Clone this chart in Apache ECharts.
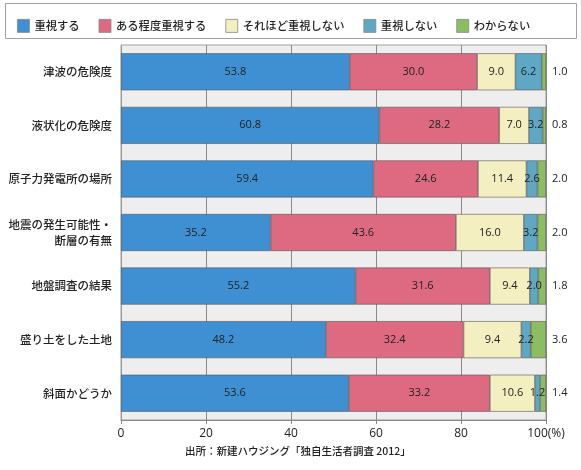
<!DOCTYPE html>
<html>
<head>
<meta charset="utf-8">
<script src="https://cdn.jsdelivr.net/npm/echarts@6/dist/echarts.min.js"></script>
<style>
  html, body { margin: 0; padding: 0; background: #fff; }
  #main { width: 581px; height: 470px; }
</style>
</head>
<body>
<div id="main"></div>
<script>
// 項目（上から順）
var categories = [
    '津波の危険度',
    '液状化の危険度',
    '原子力発電所の場所',
    '地震の発生可能性・\n断層の有無',
    '地盤調査の結果',
    '盛り土をした土地',
    '斜面かどうか'
];
var seriesNames = ['重視する', 'ある程度重視する', 'それほど重視しない', '重視しない', 'わからない'];

// 各回答の割合（%）
var juushi      = [53.8, 60.8, 59.4, 35.2, 55.2, 48.2, 53.6];
var aruteido    = [30.0, 28.2, 24.6, 43.6, 31.6, 32.4, 33.2];
var sorehodo    = [9.0, 7.0, 11.4, 16.0, 9.4, 13.6, 10.6];
var shinai      = [6.2, 3.2, 2.6, 3.2, 2.0, 2.2, 1.2];
var wakaranai   = [1.0, 0.8, 2.0, 2.0, 1.8, 3.6, 1.4];
// 図に印字されているラベル（盛り土の行は図のまま 9.4）
var sorehodoLabels = ['9.0', '7.0', '11.4', '16.0', '9.4', '9.4', '10.6'];

var xTicks = [0, 20, 40, 60, 80, 100];

var colors = ['#3f90d2', '#de6a81', '#f3efc0', '#5ea8c6', '#8cbd61'];

var myChart = echarts.init(document.getElementById('main'));

var labelFont = {
    color: '#222',
    fontSize: 11,
    fontFamily: 'Open Sans, Noto Sans, sans-serif'
};

function makeSeries(name, data, idx, labelOpt) {
    return {
        name: name,
        type: 'bar',
        stack: 'total',
        data: data,
        barWidth: 37,
        itemStyle: {
            color: colors[idx],
            borderColor: '#555',
            borderWidth: 0.6
        },
        label: labelOpt
    };
}

var insideLabel = function (arr) {
    return Object.assign({
        show: true,
        position: 'inside',
        formatter: function (p) {
            return arr ? arr[p.dataIndex] : p.value.toFixed(1);
        }
    }, labelFont);
};

var option = {
    animation: false,
    textStyle: { fontFamily: 'Noto Sans CJK JP, sans-serif' },
    graphic: [
        {
            type: 'rect',
            shape: { x: 5.5, y: 3.5, width: 571, height: 35 },
            style: { fill: '#fff', stroke: '#a0a0a0', lineWidth: 1 },
            z: -1
        },
        {
            type: 'text',
            left: 185,
            top: 446,
            style: {
                text: '出所：新建ハウジング「独自生活者調査 2012」',
                fill: '#222',
                font: '500 10.5px "Noto Sans CJK JP"'
            }
        }
    ],
    legend: {
        data: seriesNames,
        left: 12,
        top: 14,
        itemWidth: 12,
        itemHeight: 13,
        itemGap: 19,
        icon: 'rect',
        itemStyle: { borderColor: '#888', borderWidth: 0.8 },
        textStyle: {
            color: '#222',
            fontSize: 11.3,
            fontWeight: 500,
            fontFamily: 'Noto Sans CJK JP'
        }
    },
    grid: {
        left: 121,
        right: 35,
        top: 45,
        bottom: 50,
        show: true,
        backgroundColor: '#eeeeef',
        borderColor: '#a0a0a0',
        borderWidth: 1
    },
    xAxis: {
        type: 'value',
        min: xTicks[0],
        max: xTicks[xTicks.length - 1],
        interval: 20,
        axisLine: { show: true, lineStyle: { color: '#888' } },
        axisTick: { show: true, length: 4, lineStyle: { color: '#888' } },
        splitLine: { show: true, lineStyle: { color: '#8a8a8a', width: 1 } },
        axisLabel: {
            color: '#222',
            fontSize: 12,
            fontFamily: 'Open Sans, Noto Sans, sans-serif',
            margin: 8,
            formatter: function (v) {
                return v === 100 ? '100(%)' : String(v);
            }
        }
    },
    yAxis: {
        type: 'category',
        data: categories,
        inverse: true,
        axisLine: { show: true, lineStyle: { color: '#999' } },
        axisTick: { show: false },
        axisLabel: {
            color: '#222',
            fontSize: 11.5,
            fontWeight: 500,
            fontFamily: 'Noto Sans CJK JP',
            margin: 9,
            lineHeight: 16,
            align: 'right'
        }
    },
    series: [
        makeSeries(seriesNames[0], juushi, 0, insideLabel()),
        makeSeries(seriesNames[1], aruteido, 1, insideLabel()),
        makeSeries(seriesNames[2], sorehodo, 2, insideLabel(sorehodoLabels)),
        makeSeries(seriesNames[3], shinai, 3, insideLabel()),
        makeSeries(seriesNames[4], wakaranai, 4, Object.assign({
            show: true,
            position: 'right',
            distance: 6,
            formatter: function (p) { return p.value.toFixed(1); }
        }, labelFont))
    ]
};

myChart.setOption(option);
</script>
</body>
</html>
